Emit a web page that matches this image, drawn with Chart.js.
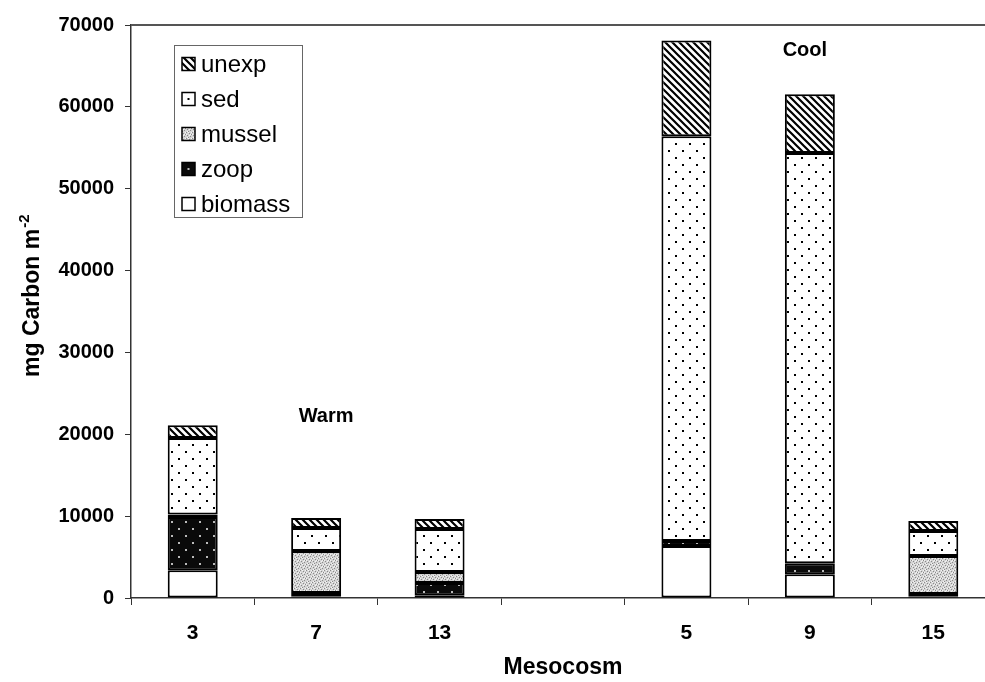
<!DOCTYPE html>
<html>
<head>
<meta charset="utf-8">
<script src="https://cdn.jsdelivr.net/npm/chart.js@4.4.1/dist/chart.umd.min.js"></script>
<style>
  html, body { margin: 0; padding: 0; background: #fff; overflow: hidden; }
  #wrap { width: 985px; height: 682px; overflow: hidden; position: relative; }
  #wrap canvas { position: absolute; left: 0; top: 0; }
</style>
</head>
<body>
<div id="wrap"><canvas id="grafik" width="1000" height="682"></canvas></div>
<script>
// Mesocosm kategorileri (bos kategori = Warm/Cool arasi bosluk)
const mesocosmlar = ['3', '7', '13', '', '5', '9', '15'];

// seriler, mg Carbon m-2 (alttan uste)
const biomass = [3400, 200, 350, null, 6350, 2900, 200];
const zoop    = [6500, 400, 1480, null, 600, 1350, 300];
const mussel  = [300, 5140, 1340, null, 0, 0, 4630];
const sed     = [9350, 2810, 5250, null, 49450, 50100, 3050];
const unexp   = [1550, 1220, 1230, null, 11700, 7200, 1220];

const yTicks = [0, 10000, 20000, 30000, 40000, 50000, 60000, 70000];

const FONT = '"Liberation Sans", Arial, sans-serif';

// desen olusturma
function tile(w, h, draw) {
    const c = document.createElement('canvas');
    c.width = w; c.height = h;
    const x = c.getContext('2d');
    draw(x, w, h);
    return c;
}

const ctx = document.getElementById('grafik').getContext('2d');

const unexpTile = tile(7, 7, function(x, w, h) {
    x.fillStyle = '#fff'; x.fillRect(0, 0, w, h);
    x.strokeStyle = '#000'; x.lineWidth = 2.2;
    x.beginPath();
    x.moveTo(-2, -2); x.lineTo(w + 2, h + 2);
    x.moveTo(-2 - w, -2); x.lineTo(2, h + 2);
    x.moveTo(w - 2, -2); x.lineTo(2 * w + 2, h + 2);
    x.stroke();
});
const sedTile = tile(14, 14, function(x, w, h) {
    x.fillStyle = '#fff'; x.fillRect(0, 0, w, h);
    x.fillStyle = '#000';
    x.fillRect(3, 3, 2, 2);
    x.fillRect(10, 10, 2, 2);
});
const musselTile = tile(6, 6, function(x, w, h) {
    x.fillStyle = '#d4d4d4'; x.fillRect(0, 0, w, h);
    x.fillStyle = '#8a8a8a';
    [[0,0],[3,1],[1,3],[4,4],[5,2],[2,5]].forEach(function(p) { x.fillRect(p[0], p[1], 1, 1); });
    x.fillStyle = '#f4f4f4';
    [[2,0],[5,0],[0,2],[3,3],[1,5],[4,2]].forEach(function(p) { x.fillRect(p[0], p[1], 1, 1); });
});
const zoopTile = tile(14, 14, function(x, w, h) {
    x.fillStyle = '#0a0a0a'; x.fillRect(0, 0, w, h);
    x.fillStyle = '#bbb';
    x.fillRect(3, 3, 2, 2);
    x.fillRect(10, 10, 2, 2);
});

const desenler = {
    biomass: '#ffffff',
    zoop: ctx.createPattern(zoopTile, 'repeat'),
    mussel: ctx.createPattern(musselTile, 'repeat'),
    sed: ctx.createPattern(sedTile, 'repeat'),
    unexp: ctx.createPattern(unexpTile, 'repeat')
};

function seri(label, data) {
    return {
        label: label,
        data: data,
        backgroundColor: desenler[label],
        borderColor: '#000',
        borderWidth: 2,
        borderSkipped: false,
        categoryPercentage: 1,
        barPercentage: 0.405
    };
}

// lejant kutucugu
function kutucuk(c, label, x, y, s) {
    const m = x + s / 2, n = y + s / 2;
    if (label === 'sed') {
        c.fillStyle = '#fff';
        c.fillRect(x, y, s, s);
        c.fillStyle = '#000';
        c.fillRect(m - 1, n - 1, 2, 2);
    } else if (label === 'zoop') {
        c.fillStyle = '#0a0a0a';
        c.fillRect(x, y, s, s);
        c.fillStyle = '#bbb';
        c.fillRect(m - 1, n - 1, 2, 2);
    } else {
        c.fillStyle = desenler[label];
        c.fillRect(x, y, s, s);
    }
    c.strokeStyle = '#000';
    c.lineWidth = 1.5;
    c.strokeRect(x, y, s, s);
}

// lejant, eksen basliklari ve etiketler
const ekler = {
    id: 'ekler',
    beforeDatasetsDraw: function(chart) {
        const c = chart.ctx, a = chart.chartArea;
        c.save();
        c.strokeStyle = '#555';
        c.lineWidth = 2;
        c.beginPath();
        c.moveTo(a.left, a.top); c.lineTo(a.right, a.top);
        c.stroke();
        c.restore();
    },
    afterDraw: function(chart) {
        const c = chart.ctx, a = chart.chartArea;
        const xs = chart.scales.x, ys = chart.scales.y;
        c.save();
        c.fillStyle = '#000';

        // y ekseni basligi
        c.save();
        c.translate(39, 377);
        c.rotate(-Math.PI / 2);
        c.font = 'bold 23px ' + FONT;
        c.textAlign = 'left';
        c.textBaseline = 'alphabetic';
        const ana = 'mg Carbon m';
        c.fillText(ana, 0, 0);
        const w = c.measureText(ana).width;
        c.font = 'bold 15px ' + FONT;
        c.fillText('-2', w + 1, -10);
        c.restore();

        // x ekseni basligi
        c.font = 'bold 23px ' + FONT;
        c.textAlign = 'center';
        c.textBaseline = 'middle';
        c.fillText('Mesocosm', (a.left + 995) / 2, 668);

        // Warm / Cool
        c.font = 'bold 20px ' + FONT;
        c.fillText('Warm', xs.getPixelForValue(1) + 10, ys.getPixelForValue(22200));
        c.fillText('Cool', xs.getPixelForValue(5) - 5, ys.getPixelForValue(66900));

        // lejant
        const lx = 174, ly = 45, lw = 128, lh = 172;
        c.strokeStyle = '#666';
        c.lineWidth = 1;
        c.strokeRect(lx + 0.5, ly + 0.5, lw, lh);
        const ds = chart.data.datasets.slice().reverse();
        c.textAlign = 'left';
        c.textBaseline = 'middle';
        ds.forEach(function(d, i) {
            const cy = ly + 19 + i * 35;
            kutucuk(c, d.label, lx + 8, cy - 6.5, 13);
            c.fillStyle = '#000';
            c.font = '24px ' + FONT;
            c.fillText(d.label, lx + 27, cy + 1);
        });
        c.restore();
    }
};

new Chart(ctx, {
    type: 'bar',
    data: {
        labels: mesocosmlar,
        datasets: [
            seri('biomass', biomass),
            seri('zoop', zoop),
            seri('mussel', mussel),
            seri('sed', sed),
            seri('unexp', unexp)
        ]
    },
    options: {
        responsive: false,
        animation: false,
        devicePixelRatio: 1,
        layout: { padding: { left: 0, top: 25, right: 5, bottom: 0 } },
        plugins: {
            legend: { display: false },
            tooltip: { enabled: false }
        },
        scales: {
            x: {
                stacked: true,
                offset: true,
                afterFit: function(s) { s.height = 84; },
                grid: {
                    offset: true,
                    drawOnChartArea: false,
                    drawTicks: true,
                    tickLength: 7,
                    tickColor: '#333'
                },
                border: { color: '#333', width: 1.5 },
                ticks: {
                    color: '#000',
                    padding: 16,
                    font: { family: FONT, size: 21, weight: 'bold' }
                }
            },
            y: {
                stacked: true,
                min: 0,
                max: 70000,
                afterFit: function(s) { s.width = 131; },
                afterBuildTicks: function(s) {
                    s.ticks = yTicks.map(function(v) { return { value: v }; });
                },
                grid: {
                    drawOnChartArea: false,
                    drawTicks: true,
                    tickLength: 6,
                    tickColor: '#333'
                },
                border: { color: '#333', width: 1.5 },
                ticks: {
                    color: '#000',
                    padding: 11,
                    font: { family: FONT, size: 20, weight: 'bold' },
                    callback: function(v) { return String(v); }
                }
            }
        }
    },
    plugins: [ekler]
});
</script>
</body>
</html>
